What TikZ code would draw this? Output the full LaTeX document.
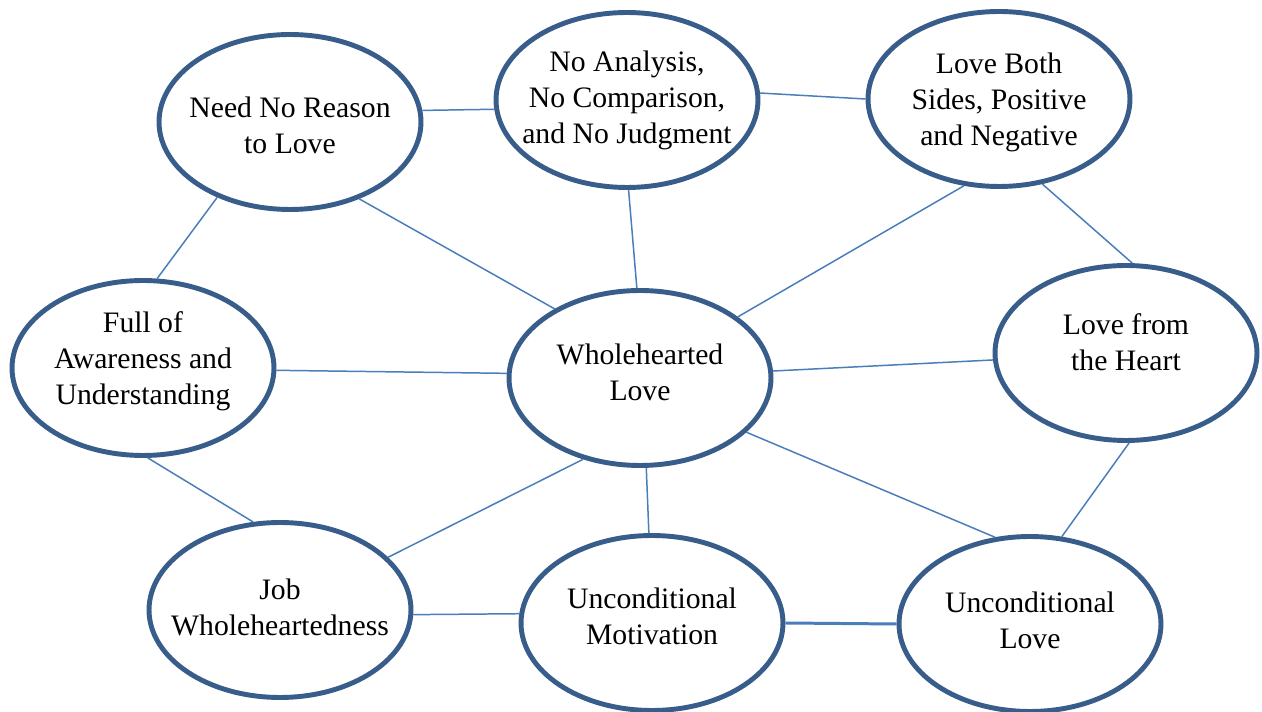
\documentclass[tikz,border=0pt]{standalone}
\usepackage{fontspec}
\setmainfont{Liberation Serif}
\definecolor{rim}{RGB}{56,93,138}
\definecolor{wire}{RGB}{74,126,187}
\usetikzlibrary{shapes.geometric}
\tikzset{bub/.style={ellipse,draw=rim,line width=2.8pt,fill=white,minimum width=5.24cm,minimum height=3.5cm,inner sep=0pt}}
\tikzset{tx/.style={inner sep=0pt,align=center,font=\fontsize{16.9}{20.5}\selectfont}}
\tikzset{wi/.style={draw=wire,line width=0.85pt}}

\begin{document}
\begin{tikzpicture}[x=0.02cm,y=-0.02cm]
\useasboundingbox (0,0) rectangle (1262,712);
\node[bub] (need)  at (290,122)  {};
\node[bub] (noana) at (627,100)  {};
\node[bub] (both)  at (999,99)   {};
\node[bub] (aware) at (143,368)  {};
\node[bub] (whole) at (640,378)  {};
\node[bub] (heart) at (1126,353) {};
\node[bub] (job)   at (280,610)  {};
\node[bub] (motiv) at (652,623)  {};
\node[bub] (uncl)  at (1030,624) {};
\node[tx] (need-t)  at (290,125)   {Need No Reason\\to Love};
\node[tx] (noana-t) at (627,100)   {No Analysis,\\No Comparison,\\and No Judgment};
\node[tx] (both-t)  at (999,102.5) {Love Both\\Sides, Positive\\and Negative};
\node[tx] (aware-t) at (143,361)   {Full of\\Awareness and\\Understanding};
\node[tx] (whole-t) at (640,372.5) {Wholehearted\\Love};
\node[tx] (heart-t) at (1126,342)  {Love from\\the Heart};
\node[tx] (job-t)   at (280,607)   {Job\\Wholeheartedness};
\node[tx] (motiv-t) at (652,616)   {Unconditional\\Motivation};
\node[tx] (uncl-t)  at (1030,620)  {Unconditional\\Love};
\draw[wi] (need.5.6) -- (noana.184);
\draw[wi] (noana.3.4) -- (both.180);
\draw[wi] (need.226.5) -- (aware.81);
\draw[wi] (need.312) -- (whole.141);
\draw[wi] (noana.271) -- (whole.92);
\draw[wi] (both.248) -- (whole.32);
\draw[wi] (both.297.6) -- (heart.86.3);
\draw[wi] (aware.359) -- (whole.178.3);
\draw[wi] (whole.3.8) -- (heart.183);
\draw[wi] (aware.273.8) -- (job.107);
\draw[wi] (whole.235) -- (job.26.3);
\draw[wi] (whole.274.4) -- (motiv.92);
\draw[wi] (whole.333) -- (uncl.112.8);
\draw[wi] (heart.272.5) -- (uncl.70);
\draw[wi] (job.358.7) -- (motiv.176.1);
\draw[wi,line width=1.7pt] (motiv.east) -- (uncl.west);
\end{tikzpicture}
\end{document}
